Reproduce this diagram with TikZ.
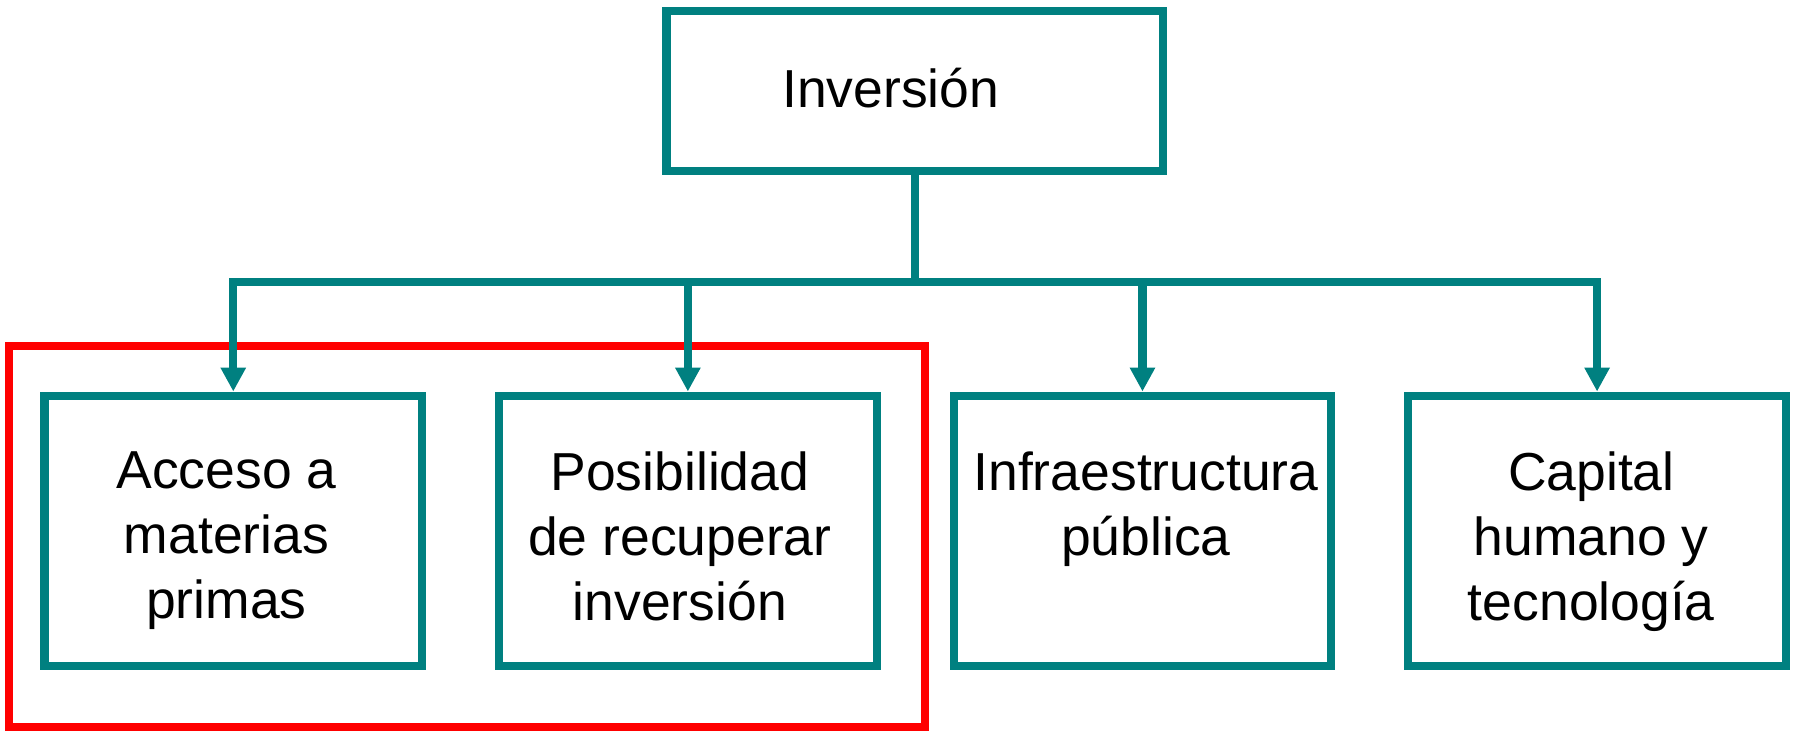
\documentclass[tikz,border=0pt]{standalone}
\usepackage{fontspec}
\setmainfont{Liberation Sans}
\usepackage{tikz}
\usetikzlibrary{arrows.meta,positioning}
\definecolor{tealline}{RGB}{0,128,128}

\begin{document}
\begin{tikzpicture}[
    x=0.01cm, y=-0.01cm,
    node distance=0.603cm,
    >={Triangle[width=0.21cm,length=0.21cm]},
    font=\fontsize{13.3}{16.1}\selectfont,
    box/.style={
		rectangle,
		draw=tealline,
		line width=2pt,
		minimum width=3.30cm,
		minimum height=2.36cm,
		fill=white
	},
	txt/.style={
		anchor=north,
		inner sep=0pt,
		align=center
	},
	link/.style={
		draw=tealline,
		line width=2pt,
		->
	},
	focus/.style={
		rectangle,
		draw=red,
		line width=2pt,
		minimum width=8.00cm,
		minimum height=3.33cm
	}
  ]
  \useasboundingbox (0,0) rectangle (1568,640);

  % the red frame goes first, under the arrows
  \node [focus] (grupo) at (408.5,469) {};

  % the blocks
  \node [box, minimum width=4.34cm, minimum height=1.40cm] (inv) at (800,79.5) {};
  \node [box] (acceso) at (204,464) {};
  \node [box, right=of acceso] (recup) {};
  \node [box, right=of recup] (infra) {};
  \node [box, right=of infra] (capital) {};

  % the texts
  \node [txt, below=0.53cm of inv.north, xshift=-0.21cm] (tinv) {Inversión};
  \node [txt, below=0.52cm of acceso.north, xshift=-0.06cm] (tacceso) {Acceso a\\materias\\primas};
  \node [txt, below=0.52cm of recup.north, xshift=-0.07cm] (trecup) {Posibilidad\\de recuperar\\inversión};
  \node [txt, below=0.52cm of infra.north, xshift=0.03cm] (tinfra) {Infraestructura\\pública};
  \node [txt, below=0.52cm of capital.north, xshift=-0.05cm] (tcapital) {Capital\\humano y\\tecnología};

  % the connectors
  \coordinate (bus) at (800,247);
  \draw [link] (inv.south) -- (bus) -| (acceso.north);
  \draw [link] (inv.south) -- (bus) -| (recup.north);
  \draw [link] (inv.south) -- (bus) -| (infra.north);
  \draw [link] (inv.south) -- (bus) -| (capital.north);

\end{tikzpicture}
\end{document}
